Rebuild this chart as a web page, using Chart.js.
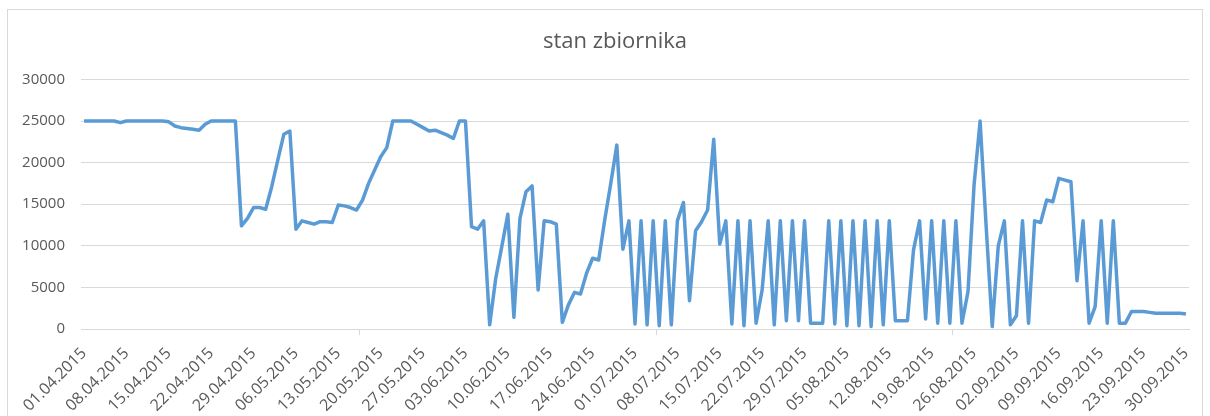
<!DOCTYPE html>
<html>
<head>
<meta charset="utf-8">
<title>stan zbiornika</title>
<script src="https://cdn.jsdelivr.net/npm/chart.js@4.4.0/dist/chart.umd.min.js"></script>
<style>
  html, body { margin: 0; padding: 0; background: #fff; overflow: hidden; }
  .frame { position: absolute; left: 7px; top: 9px; width: 1194px; height: 410px; border: 1px solid #d9d9d9; }
  canvas { display: block; }
</style>
</head>
<body>
<div class="frame"><canvas id="chart-1" width="1194" height="406"></canvas></div>
<script>
'use strict';

const title = 'stan zbiornika';

// one value per day
const aprilValues = [
  25000, 25000, 25000, 25000, 25000, 25000, 24800, 25000, 25000, 25000,
  25000, 25000, 25000, 25000, 24900, 24400, 24200, 24100, 24000, 23900,
  24600, 25000, 25000, 25000, 25000, 25000, 12400, 13300, 14600, 14600
];
const mayValues = [
  14400, 17100, 20300, 23400, 23800, 12000, 13000, 12800, 12600, 12900,
  12900, 12800, 14900, 14800, 14600, 14300, 15500, 17500, 19100, 20700,
  21800, 25000, 25000, 25000, 25000, 24600, 24200, 23800, 23900, 23600,
  23300
];
const juneValues = [
  22900, 25000, 25000, 12300, 12000, 13000, 500, 6100, 9900, 13800,
  1400, 13300, 16500, 17200, 4700, 13000, 12900, 12600, 800, 2900,
  4400, 4200, 6700, 8500, 8300, 13100, 17500, 22100, 9600, 13000
];
const julyValues = [
  600, 13000, 500, 13000, 400, 13000, 500, 13000, 15200, 3400,
  11800, 12900, 14300, 22800, 10200, 13000, 600, 13000, 400, 13000,
  700, 4700, 13000, 500, 13000, 1000, 13000, 1000, 13000, 700,
  700
];
const augustValues = [
  700, 13000, 600, 13000, 400, 13000, 400, 13000, 300, 13000,
  500, 13000, 1000, 1000, 1000, 9500, 13000, 1200, 13000, 700,
  13000, 700, 13000, 700, 4500, 17300, 25000, 12300, 300, 10000,
  13000
];
const septemberValues = [
  500, 1600, 13000, 700, 13000, 12800, 15500, 15300, 18100, 17900,
  17700, 5800, 13000, 700, 2700, 13000, 700, 13000, 700, 700,
  2100, 2100, 2100, 2000, 1900, 1900, 1900, 1900, 1900, 1800
];

const tickLabels = [
  '01.04.2015', '08.04.2015', '15.04.2015', '22.04.2015', '29.04.2015',
  '06.05.2015', '13.05.2015', '20.05.2015', '27.05.2015', '03.06.2015',
  '10.06.2015', '17.06.2015', '24.06.2015', '01.07.2015', '08.07.2015',
  '15.07.2015', '22.07.2015', '29.07.2015', '05.08.2015', '12.08.2015',
  '19.08.2015', '26.08.2015', '02.09.2015', '09.09.2015', '16.09.2015',
  '23.09.2015', '30.09.2015'
];

const yTicks = [0, 5000, 10000, 15000, 20000, 25000, 30000];

const values = [].concat(aprilValues, mayValues, juneValues, julyValues, augustValues, septemberValues);

// dd.mm.yyyy for every day from 01.04.2015
const categories = values.map((v, i) => {
  const d = new Date(2015, 3, 1 + i);
  const pad = n => String(n).padStart(2, '0');
  return pad(d.getDate()) + '.' + pad(d.getMonth() + 1) + '.' + d.getFullYear();
});

// Excel centres the title a bit right of the canvas middle
const titleShift = {
  id: 'titleShift',
  afterLayout(chart) {
    chart.titleBlock.left += 33;
  }
};

class TankChart {
  textColor = '#595959';
  gridColor = '#d9d9d9';
  fontFamily = "'Open Sans', sans-serif";

  init() {
    this.createChart('chart-1');
  }

  createChart(element) {
    const ctx = document.getElementById(element).getContext('2d');

    new Chart(ctx, {
      type: 'line',
      data: {
        labels: categories,
        datasets: [{
          label: title,
          data: values,
          borderColor: '#5b9bd5',
          borderWidth: 3.5,
          borderJoinStyle: 'round',
          pointRadius: 0,
          tension: 0,
          fill: false
        }]
      },
      plugins: [titleShift],
      options: {
        responsive: false,
        animation: false,
        layout: {
          padding: { left: 0, right: 13, top: 0, bottom: 0 }
        },
        plugins: {
          legend: { display: false },
          tooltip: { enabled: false },
          title: {
            display: true,
            text: title,
            color: this.textColor,
            font: { family: this.fontFamily, size: 22, weight: 'normal' },
            padding: { top: 19, bottom: 24 }
          }
        },
        scales: {
          x: {
            type: 'category',
            offset: true,
            grid: {
              offset: true,
              drawOnChartArea: false,
              drawTicks: true,
              tickLength: 6,
              color: c => (c.index % 7 === 0 ? this.gridColor : 'rgba(0,0,0,0)')
            },
            border: { color: this.gridColor },
            ticks: {
              autoSkip: false,
              minRotation: 45,
              maxRotation: 45,
              padding: 9,
              color: this.textColor,
              font: { family: this.fontFamily, size: 16 },
              callback: (v, i) => (tickLabels.includes(categories[i]) ? categories[i] : null)
            },
            afterFit: scale => {
              scale.height = 87;
              scale.paddingRight = 0;
            }
          },
          y: {
            min: yTicks[0],
            max: yTicks[yTicks.length - 1],
            grid: { color: this.gridColor, drawTicks: false },
            border: { display: false },
            afterBuildTicks: scale => { scale.ticks = yTicks.map(value => ({ value })); },
            ticks: {
              padding: 16,
              color: this.textColor,
              font: { family: this.fontFamily, size: 15 },
              callback: value => String(value)
            },
            afterFit: scale => { scale.width = 73; }
          }
        }
      }
    });
  }
}

window.addEventListener('load', () => {
  new TankChart().init();
});
</script>
</body>
</html>
